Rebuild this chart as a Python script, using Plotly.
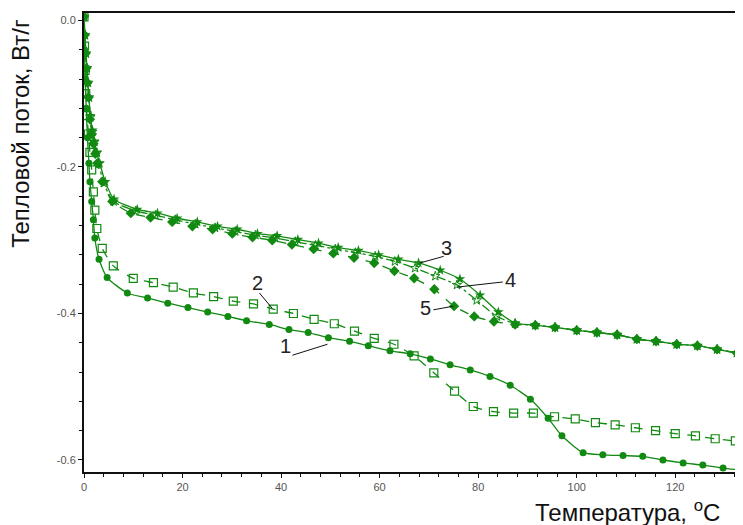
import plotly.graph_objects as go

# ---------------- data ----------------
x1 = [0, 0.1, 0.25, 0.45, 0.7, 1.0, 1.2, 1.56, 1.9, 2.2, 3.05, 4.7, 8.8, 12.9, 17.0, 21.1, 25.1, 29.2,
      33.0, 37.6, 41.6, 45.5, 49.6, 53.9, 57.7, 62.1, 66.2, 70.3, 74.3, 78.4, 82.4, 86.5, 90.6, 94.2,
      97.0, 101.3, 105.3, 109.4, 113.4, 117.5, 121.6, 125.6, 129.7, 133.5]
y1 = [0.005, -0.04, -0.08, -0.12, -0.16, -0.195, -0.22, -0.247, -0.272, -0.297, -0.326, -0.351, -0.372,
      -0.379, -0.386, -0.392, -0.398, -0.404, -0.410, -0.415, -0.422, -0.426, -0.433, -0.438, -0.444,
      -0.451, -0.455, -0.462, -0.470, -0.477, -0.486, -0.498, -0.517, -0.543, -0.567, -0.590, -0.593,
      -0.594, -0.595, -0.600, -0.604, -0.607, -0.611, -0.614]

x2 = [0, 0.1, 0.2, 0.35, 0.6, 0.9, 1.2, 1.56, 1.9, 2.2, 2.6, 3.7, 5.95, 10.0, 14.1, 18.1, 22.2, 26.3,
      30.3, 34.4, 38.4, 42.5, 46.7, 50.8, 54.9, 58.9, 62.9, 67.0, 71.0, 75.2, 79.0, 83.1, 87.2, 91.2,
      95.5, 99.7, 103.8, 107.8, 111.9, 116.0, 120.0, 124.1, 128.1, 132.2]
y2 = [0.005, -0.035, -0.068, -0.1, -0.13, -0.155, -0.18, -0.204, -0.234, -0.259, -0.284, -0.311, -0.335,
      -0.352, -0.358, -0.364, -0.372, -0.377, -0.383, -0.387, -0.394, -0.400, -0.408, -0.414, -0.424,
      -0.434, -0.442, -0.458, -0.481, -0.506, -0.527, -0.534, -0.536, -0.536, -0.541, -0.544, -0.549,
      -0.552, -0.556, -0.560, -0.564, -0.567, -0.571, -0.574]

x3 = [0, 0.2, 0.4, 0.6, 0.8, 1.0, 1.3, 1.7, 2.1, 2.6, 3.2, 4.3, 6.1, 10.8, 14.9, 18.9, 23.0, 27.1, 31.1,
      35.2, 39.2, 43.4, 47.6, 51.6, 55.7, 59.8, 63.8, 67.9, 72.3, 76.3, 80.4, 84.1, 87.5, 91.6, 95.6,
      100.0, 104.1, 108.2, 112.2, 116.1, 120.3, 124.5, 128.5, 132.5]
y3 = [0.005, -0.02, -0.045, -0.065, -0.085, -0.105, -0.13, -0.15, -0.165, -0.18, -0.195, -0.22, -0.244,
      -0.258, -0.263, -0.270, -0.275, -0.281, -0.285, -0.291, -0.294, -0.299, -0.304, -0.310, -0.314,
      -0.320, -0.326, -0.331, -0.341, -0.353, -0.375, -0.398, -0.413, -0.416, -0.419, -0.423, -0.426,
      -0.429, -0.435, -0.438, -0.442, -0.444, -0.449, -0.454]

x4 = [0, 0.2, 0.4, 0.6, 0.8, 1.0, 1.3, 1.7, 2.1, 2.6, 3.0, 4.0, 6.0, 10.5, 14.5, 18.5, 22.6, 26.6, 30.7,
      34.8, 38.8, 42.9, 47.0, 51.0, 55.1, 59.1, 63.1, 67.2, 71.3, 75.7, 79.7, 83.8, 87.5, 91.6, 95.6,
      100.0, 104.1, 108.2, 112.2, 116.1, 120.3, 124.5, 128.5, 132.5]
y4 = [0.005, -0.02, -0.045, -0.065, -0.085, -0.105, -0.132, -0.152, -0.166, -0.181, -0.195, -0.222, -0.247,
      -0.260, -0.266, -0.272, -0.278, -0.283, -0.288, -0.293, -0.297, -0.302, -0.307, -0.312, -0.317,
      -0.322, -0.329, -0.338, -0.349, -0.361, -0.382, -0.404, -0.414, -0.416, -0.419, -0.423, -0.426,
      -0.429, -0.435, -0.438, -0.442, -0.444, -0.449, -0.454]

x5 = [0, 0.15, 0.3, 0.5, 0.7, 0.9, 1.2, 1.6, 1.9, 2.3, 2.7, 3.7, 5.75, 9.5, 13.5, 17.9, 22.0, 26.1, 30.1,
      34.2, 38.2, 42.2, 46.6, 50.6, 54.8, 58.9, 63.0, 67.0, 71.1, 75.1, 79.2, 83.2, 87.5, 91.6, 95.6,
      100.0, 104.1, 108.2, 112.2, 116.1, 120.3, 124.5, 128.5, 132.5]
y5 = [0.005, -0.02, -0.045, -0.065, -0.085, -0.105, -0.135, -0.155, -0.168, -0.182, -0.195, -0.22, -0.247,
      -0.263, -0.269, -0.275, -0.281, -0.285, -0.291, -0.296, -0.300, -0.306, -0.312, -0.318, -0.324,
      -0.331, -0.342, -0.352, -0.367, -0.390, -0.404, -0.411, -0.415, -0.416, -0.419, -0.423, -0.426,
      -0.429, -0.435, -0.438, -0.442, -0.444, -0.449, -0.454]

x_tickvals = [0, 20, 40, 60, 80, 100, 120]
x_ticktext = ["0", "20", "40", "60", "80", "100", "120"]
y_tickvals = [0.0, -0.2, -0.4, -0.6]
y_ticktext = ["0.0", "-0.2", "-0.4", "-0.6"]

curve_labels = ["1", "2", "3", "4", "5"]
label_x = [40.8, 35.3, 73.6, 86.6, 69.4]
label_y = [-0.445, -0.359, -0.311, -0.354, -0.393]
leader_x0 = [42.3, 35.6, 73.0, 85.0, 70.9]
leader_y0 = [-0.457, -0.372, -0.322, -0.357, -0.395]
leader_x1 = [49.4, 38.2, 68.2, 75.7, 75.0]
leader_y1 = [-0.442, -0.393, -0.331, -0.364, -0.390]

x_title = "Температура, <sup>o</sup>C"
y_title = "Тепловой поток, Вт/г"

# ---------------- figure ----------------
GREEN = "#128a12"
fig = go.Figure()

series = [
    (x1, y1, "solid", dict(symbol="circle", size=7, color=GREEN)),
    (x2, y2, "dash", dict(symbol="square-open", size=8, color=GREEN, line=dict(width=1.2, color=GREEN))),
    (x3, y3, "solid", dict(symbol="star", size=8, color=GREEN)),
    (x4, y4, "dashdot", dict(symbol="star-open", size=7, color=GREEN, line=dict(width=1, color=GREEN))),
    (x5, y5, "dash", dict(symbol="diamond", size=8, color=GREEN)),
]
for xs, ys, dash, mk in series:
    fig.add_trace(go.Scatter(
        x=xs, y=ys, mode="lines+markers",
        line=dict(color=GREEN, width=1.3, dash=dash, shape="spline", smoothing=0.6),
        marker=mk, showlegend=False, hoverinfo="skip"))

for i, t in enumerate(curve_labels):
    fig.add_annotation(x=label_x[i], y=label_y[i], text=t, showarrow=False,
                       font=dict(family="Liberation Sans, Arial", size=20, color="#222"),
                       xanchor="center", yanchor="middle")
    fig.add_shape(type="line", x0=leader_x0[i], y0=leader_y0[i], x1=leader_x1[i], y1=leader_y1[i],
                  line=dict(color="#111", width=1))

fig.add_annotation(xref="paper", yref="paper", x=-0.0956, y=0.739, text=y_title, textangle=-90,
                   showarrow=False, font=dict(family="Liberation Sans, Arial", size=24, color="#111"),
                   xanchor="center", yanchor="middle")
fig.add_annotation(xref="paper", yref="paper", x=0.824, y=-0.085, text=x_title,
                   showarrow=False, font=dict(family="Liberation Sans, Arial", size=24, color="#111"),
                   xanchor="center", yanchor="middle")

tickfont = dict(family="Liberation Sans, Arial", size=11, color="#555")
fig.update_xaxes(range=[0, 133.75], showline=True, linecolor="#111", linewidth=2, mirror=True,
                 showgrid=False, zeroline=False, ticks="outside", ticklen=4, tickcolor="#111",
                 tickvals=x_tickvals, ticktext=x_ticktext, tickfont=tickfont,
                 minor=dict(dtick=4, ticks="outside", ticklen=3, tickcolor="#111", showgrid=False))
fig.update_yaxes(range=[-0.6164, 0.0102], showline=True, linecolor="#111", linewidth=2,
                 showgrid=False, zeroline=False, ticks="outside", ticklen=4, tickcolor="#111",
                 tickvals=y_tickvals, ticktext=y_ticktext, tickfont=tickfont,
                 minor=dict(dtick=0.04, tick0=0, ticks="outside", ticklen=3, tickcolor="#111", showgrid=False))

# page body has an 8px default margin, so the figure is sized/offset to land on the reference pixels
fig.update_layout(width=735, height=517, margin=dict(l=76, r=0, t=5, b=53),
                  plot_bgcolor="white", paper_bgcolor="white")
fig.write_html("out.html")
